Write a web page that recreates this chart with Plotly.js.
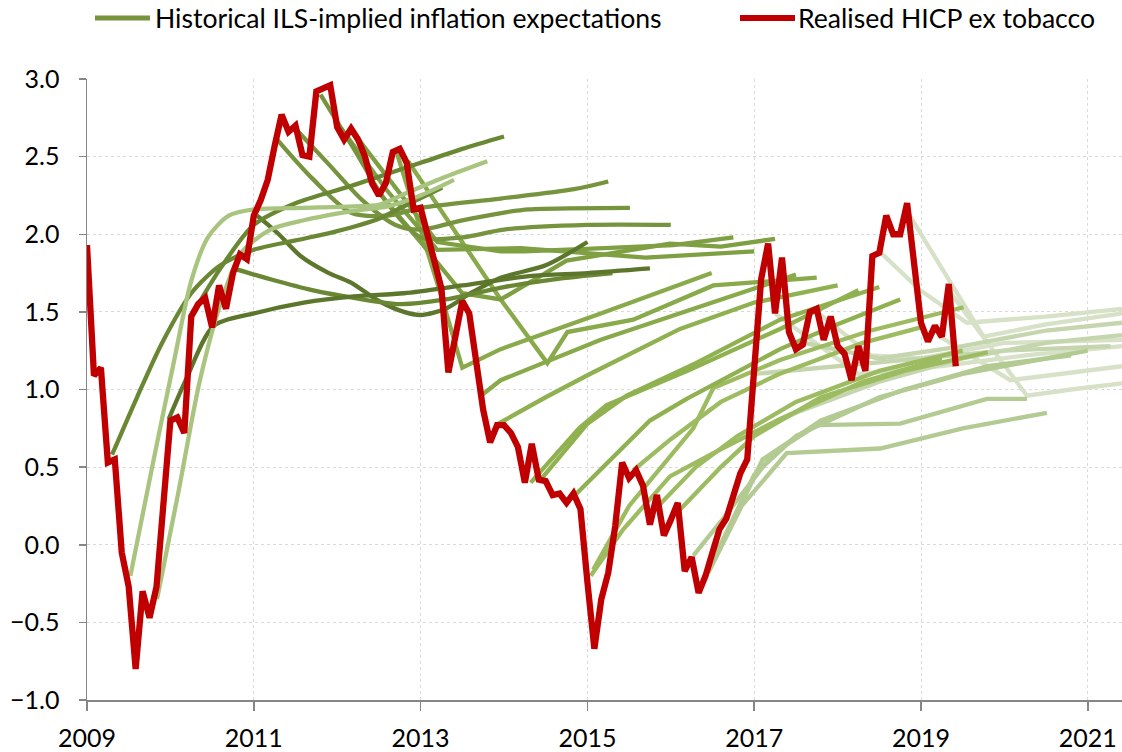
<!DOCTYPE html>
<html>
<head>
<meta charset="utf-8">
<script src="https://cdn.plot.ly/plotly-3.0.1.min.js"></script>
<style>
  html, body { margin: 0; padding: 0; background: #ffffff; }
  #chart { width: 1122px; height: 752px; }
</style>
</head>
<body>
<div id="chart"></div>
<script>
// ---------------- DATA ----------------
// Realised HICP ex tobacco, monthly, starting Jan 2009
const hicpStartYear = 2009;
const hicpValues = [
  1.93, 1.09, 1.14, 0.53, 0.55, -0.05, -0.27, -0.80, -0.30, -0.47, -0.27, 0.29,
  0.80, 0.82, 0.72, 1.47, 1.55, 1.59, 1.40, 1.67, 1.52, 1.75, 1.87, 1.84,
  2.12, 2.22, 2.35, 2.57, 2.77, 2.66, 2.70, 2.51, 2.50, 2.92, 2.94, 2.96,
  2.69, 2.61, 2.68, 2.61, 2.50, 2.33, 2.25, 2.33, 2.53, 2.55, 2.46, 2.16,
  2.17, 1.99, 1.79, 1.65, 1.11, 1.35, 1.57, 1.49, 1.15, 0.87, 0.66, 0.77,
  0.77, 0.72, 0.63, 0.40, 0.65, 0.42, 0.41, 0.32, 0.33, 0.27, 0.33, 0.23,
  -0.24, -0.67, -0.35, -0.18, 0.12, 0.53, 0.43, 0.48, 0.38, 0.13, 0.32, 0.06,
  0.16, 0.27, -0.17, -0.08, -0.31, -0.20, -0.05, 0.10, 0.17, 0.33, 0.46, 0.55,
  1.13, 1.71, 1.94, 1.49, 1.85, 1.37, 1.26, 1.29, 1.50, 1.52, 1.32, 1.47,
  1.28, 1.23, 1.06, 1.28, 1.12, 1.86, 1.88, 2.12, 2.00, 2.00, 2.20, 1.78,
  1.43, 1.31, 1.41, 1.34, 1.68, 1.15
];

// Historical ILS-implied inflation expectation curves: [date (decimal year), value]
const ils01 = [[2009.52,-0.20],[2009.8,0.55],[2010.05,1.20],[2010.25,1.70],[2010.45,1.98],[2010.7,2.12],[2011.0,2.16],[2011.6,2.17],[2012.2,2.18],[2012.5,2.19],[2012.85,2.27],[2013.3,2.37],[2013.8,2.47]];
const ils02 = [[2009.84,-0.35],[2010.1,0.35],[2010.35,1.05],[2010.6,1.55],[2010.85,1.88],[2011.2,2.03],[2011.6,2.09],[2012.2,2.15],[2012.6,2.18],[2013.0,2.25],[2013.4,2.35]];
const ils03 = [[2009.3,0.58],[2009.6,0.95],[2009.9,1.30],[2010.25,1.62],[2010.6,1.80],[2011.0,1.90],[2011.5,1.96],[2012.0,2.02],[2012.5,2.10],[2012.8,2.18],[2013.26,2.30]];
const ils04 = [[2009.98,0.81],[2010.2,1.08],[2010.52,1.41],[2011.0,1.49],[2011.6,1.56],[2012.2,1.60],[2012.8,1.62],[2013.5,1.67],[2014.3,1.73],[2015.0,1.75],[2015.75,1.78]];
const ils05 = [[2010.28,1.50],[2010.6,1.78],[2011.0,2.06],[2011.5,2.20],[2012.16,2.31],[2013.0,2.46],[2013.5,2.55],[2014.0,2.63]];
const ils06 = [[2010.75,1.78],[2011.2,1.71],[2011.7,1.64],[2012.2,1.59],[2012.76,1.55],[2013.3,1.58],[2014.0,1.66],[2014.6,1.71],[2015.3,1.75]];
const ils07 = [[2011.04,2.12],[2011.3,2.00],[2011.56,1.86],[2011.9,1.75],[2012.16,1.69],[2012.5,1.57],[2012.8,1.50],[2013.0,1.48],[2013.3,1.52],[2013.6,1.62],[2013.96,1.72],[2014.5,1.80],[2015.0,1.95]];
const ils08 = [[2011.28,2.61],[2011.7,2.36],[2012.16,2.14],[2012.6,2.12],[2013.0,2.17],[2013.96,2.23],[2014.84,2.29],[2015.25,2.34]];
const ils09 = [[2011.5,2.68],[2011.9,2.45],[2012.3,2.22],[2012.7,2.06],[2013.0,2.03],[2013.5,2.09],[2014.0,2.14],[2014.3,2.16],[2015.51,2.17]];
const ils10 = [[2011.8,2.90],[2012.2,2.55],[2012.6,2.20],[2013.0,1.98],[2013.5,1.98],[2014.0,2.03],[2015.0,2.06],[2016.0,2.06]];
const ils11 = [[2012.05,2.68],[2012.6,2.28],[2013.2,1.90],[2014.2,1.91],[2015.7,1.85],[2017.0,1.89]];
const ils12 = [[2012.2,2.65],[2012.7,2.30],[2013.2,1.95],[2013.96,1.89],[2014.24,1.89],[2015.2,1.91],[2016.03,1.93],[2016.75,1.98]];
const ils13 = [[2012.45,2.30],[2013.0,1.95],[2013.5,1.62],[2013.96,1.58],[2014.75,1.83],[2015.99,1.94],[2016.6,1.92],[2017.25,1.97]];
const ils14 = [[2012.7,2.55],[2013.26,1.58],[2013.5,1.14],[2013.96,1.26],[2015.16,1.49],[2016.49,1.75]];
const ils15 = [[2012.85,2.47],[2013.96,1.58],[2014.52,1.17],[2014.76,1.37],[2015.55,1.45],[2016.51,1.67],[2017.75,1.72]];
const ils16 = [[2013.7,0.95],[2013.96,1.06],[2015.16,1.32],[2016.59,1.58],[2017.5,1.74]];
const ils17 = [[2013.9,0.77],[2014.5,0.95],[2015.03,1.10],[2016.11,1.39],[2017.0,1.56],[2018.0,1.67]];
const ils18 = [[2014.32,0.40],[2014.9,0.75],[2015.23,0.90],[2016.2,1.12],[2017.31,1.39],[2018.25,1.64]];
const ils19 = [[2014.44,0.42],[2015.0,0.78],[2015.47,0.96],[2016.3,1.17],[2017.31,1.45],[2018.5,1.66]];
const ils20 = [[2014.87,0.33],[2015.75,0.80],[2016.19,0.94],[2017.31,1.26],[2018.0,1.42],[2018.75,1.58]];
const ils21 = [[2015.04,-0.20],[2015.43,0.10],[2015.99,0.44],[2016.51,0.59],[2017.31,0.81],[2018.3,1.05],[2019.25,1.20]];
const ils22 = [[2015.07,-0.16],[2015.5,0.25],[2016.27,0.75],[2016.51,1.01],[2017.31,1.19],[2018.4,1.38],[2019.51,1.53]];
const ils23 = [[2015.55,0.48],[2016.0,0.68],[2016.6,0.92],[2017.3,1.10],[2018.3,1.30],[2019.0,1.40]];
const ils24 = [[2015.85,0.25],[2016.3,0.50],[2016.8,0.70],[2017.5,0.92],[2018.5,1.12],[2019.5,1.25]];
const ils25 = [[2016.1,0.22],[2016.6,0.50],[2017.0,0.70],[2017.8,0.95],[2018.8,1.12],[2019.8,1.24]];
const ils26 = [[2016.27,-0.07],[2016.6,0.15],[2017.23,0.59],[2017.75,0.77],[2018.75,0.78],[2019.79,0.94],[2020.27,0.94]];
const ils27 = [[2016.45,-0.18],[2016.85,0.25],[2017.39,0.59],[2018.51,0.62],[2019.5,0.75],[2020.51,0.85]];
const ils28 = [[2016.55,-0.05],[2017.0,0.45],[2017.5,0.70],[2018.5,0.95],[2019.5,1.10],[2020.5,1.20],[2021.0,1.25]];
const ils29 = [[2016.75,0.15],[2017.1,0.55],[2017.8,0.80],[2018.8,1.00],[2019.8,1.15],[2020.8,1.22]];
const ils30 = [[2017.0,1.10],[2018.0,1.15],[2019.0,1.20],[2020.0,1.25],[2021.27,1.28]];
const ils31 = [[2016.92,0.70],[2017.5,0.85],[2018.5,1.05],[2019.5,1.20],[2020.5,1.30],[2021.41,1.35]];
const ils32 = [[2017.6,1.30],[2018.5,1.20],[2019.5,1.28],[2020.5,1.38],[2021.41,1.43]];
const ils33 = [[2017.25,1.49],[2018.25,1.10],[2019.25,1.15],[2020.25,1.22],[2021.41,1.28]];
const ils34 = [[2017.75,1.50],[2018.4,1.22],[2019.0,1.20],[2020.0,1.30],[2021.41,1.32]];
const ils35 = [[2018.52,1.88],[2018.99,1.64],[2019.55,1.43],[2020.5,1.47],[2021.41,1.52]];
const ils36 = [[2018.83,2.15],[2019.75,1.34],[2020.5,1.42],[2021.41,1.49]];
const ils37 = [[2019.33,1.64],[2020.27,0.96],[2020.8,1.00],[2021.41,1.04]];
const ils38 = [[2019.2,1.35],[2020.07,1.06],[2021.41,1.15]];

const ilsCurves = [ils01, ils02, ils03, ils04, ils05, ils06, ils07, ils08, ils09, ils10,
  ils11, ils12, ils13, ils14, ils15, ils16, ils17, ils18, ils19, ils20,
  ils21, ils22, ils23, ils24, ils25, ils26, ils27, ils28, ils29, ils30,
  ils31, ils32, ils33, ils34, ils35, ils36, ils37, ils38];
// vintage group of each curve (mapped to a shade below)
const ilsGroup = ['p','p','d1','d0','d1','d1','d0','d2','d2','d2',
  'm1','m1','m1','m2','m2','m2','g1','g1','g1','g1',
  'g2','g2','g2','g2','g2','l1','l1','l1','l1','l2',
  'l2','l2','v1','v1','v1','v1','v1','v1'];

const xTickYears = [2009, 2011, 2013, 2015, 2017, 2019, 2021];
const legendLabels = ['Historical ILS-implied inflation expectations', 'Realised HICP ex tobacco'];

// ---------------- STYLE ----------------
const shade = {
  p: '#A9C47F', d0: '#5C772C', d1: '#6A8834', d2: '#76943D',
  m1: '#7F9F43', m2: '#88AA4A', g1: '#8FB14F', g2: '#9DBC62',
  l1: '#B3CA92', l2: '#C5D6AE', v1: '#D6E1C8'
};
const smoothGroups = ['p','d0','d1','d2'];
const redColor = '#C00000';
const legendGreen = '#77933C';
const FONT = 'Lato, "Open Sans", sans-serif';

// ---------------- TRACES ----------------
const traces = [];
// draw lightest first so darker ones sit on top of the pale ones
const order = ilsCurves.map((c, i) => i).reverse();
order.forEach(i => {
  const c = ilsCurves[i];
  const g = ilsGroup[i];
  traces.push({
    type: 'scatter', mode: 'lines',
    x: c.map(p => p[0]), y: c.map(p => p[1]),
    line: { color: shade[g], width: 4.3,
            shape: smoothGroups.includes(g) ? 'spline' : 'linear', smoothing: 0.8 },
    hoverinfo: 'skip', showlegend: false
  });
});
traces.push({
  type: 'scatter', mode: 'lines',
  x: hicpValues.map((v, i) => hicpStartYear + i / 12),
  y: hicpValues,
  line: { color: redColor, width: 6.3 },
  hoverinfo: 'skip', showlegend: false
});

// ---------------- LAYOUT ----------------
const W = 1122, H = 752;
const mL = 87, mR = 0, mT = 79, mB = 52;
const pw = W - mL - mR, ph = H - mT - mB;
const px2paper = px => (px - mL) / pw;
const py2paper = py => (H - mB - py) / ph;

const legY = py2paper(18);
const layout = {
  width: W, height: H,
  margin: { l: mL, r: mR, t: mT, b: mB, pad: 0 },
  paper_bgcolor: '#ffffff', plot_bgcolor: '#ffffff',
  showlegend: false,
  font: { family: FONT, size: 25, color: '#000000' },
  xaxis: {
    range: [2009, 2021.41], tickvals: xTickYears, ticktext: xTickYears.map(String),
    ticks: 'outside', ticklen: 9, tickwidth: 1.5, tickcolor: '#868686',
    showline: true, linecolor: '#868686', linewidth: 1.5,
    showgrid: true, gridcolor: '#D9D9D9', griddash: 'dot', gridwidth: 1,
    zeroline: false, tickfont: { family: FONT, size: 25, color: '#000' },
    ticklabelstandoff: 6, fixedrange: true
  },
  yaxis: {
    range: [-1, 3], dtick: 0.5, tick0: 0, tickformat: '.1f',
    ticks: 'outside', ticklen: 7, tickwidth: 1.5, tickcolor: '#868686',
    showline: true, linecolor: '#868686', linewidth: 1.5,
    showgrid: true, gridcolor: '#D9D9D9', griddash: 'dot', gridwidth: 1,
    zeroline: false, tickfont: { family: FONT, size: 25, color: '#000' },
    ticklabelstandoff: 14, fixedrange: true
  },
  shapes: [
    { type: 'line', xref: 'paper', yref: 'paper', x0: px2paper(95), x1: px2paper(150), y0: legY, y1: legY,
      line: { color: legendGreen, width: 5 } },
    { type: 'line', xref: 'paper', yref: 'paper', x0: px2paper(740), x1: px2paper(795), y0: legY, y1: legY,
      line: { color: redColor, width: 6 } }
  ],
  annotations: [
    { xref: 'paper', yref: 'paper', x: px2paper(153), y: legY, xanchor: 'left', yanchor: 'middle',
      text: legendLabels[0], showarrow: false, font: { family: FONT, size: 26.6, color: '#000' } },
    { xref: 'paper', yref: 'paper', x: px2paper(796), y: legY, xanchor: 'left', yanchor: 'middle',
      text: legendLabels[1], showarrow: false, font: { family: FONT, size: 26.6, color: '#000' } }
  ]
};

Plotly.newPlot('chart', traces, layout, { staticPlot: true, displayModeBar: false });
</script>
</body>
</html>
